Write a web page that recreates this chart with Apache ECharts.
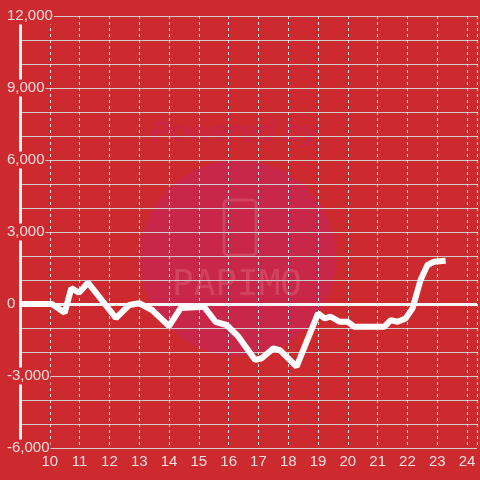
<!DOCTYPE html>
<html>
<head>
<meta charset="utf-8">
<script src="https://cdn.jsdelivr.net/npm/echarts@6/dist/echarts.min.js"></script>
<style>
  html, body { margin: 0; padding: 0; background: #cd2a2f; }
  #chart { width: 480px; height: 480px; }
</style>
</head>
<body>
<div id="chart"></div>
<script>
// 時刻 (hour) と差枚数
var hours = [9.0, 10.07, 10.5, 10.72, 10.98, 11.28, 12.22, 12.67, 13.0, 13.43, 14.0, 14.39, 15.17, 15.56, 15.93, 16.33, 16.89, 17.11, 17.5, 17.72, 18.28, 19.0, 19.22, 19.43, 19.72, 20.0, 20.22, 21.22, 21.44, 21.67, 21.94, 22.17, 22.44, 22.67, 22.89, 23.28];
var diffs = [0, 0, -360, 660, 470, 890, -590, -40, 30, -250, -920, -170, -110, -740, -875, -1360, -2330, -2260, -1850, -1920, -2610, -390, -600, -530, -740, -740, -950, -950, -670, -740, -600, -180, 1000, 1625, 1760, 1800];
var yTicks = [-6000, -3000, 0, 3000, 6000, 9000, 12000];
var xTicks = [10, 11, 12, 13, 14, 15, 16, 17, 18, 19, 20, 21, 22, 23, 24];

var bg = '#cd2a2f';
var labelColor = '#f6dcdc';

var chart = echarts.init(document.getElementById('chart'));

var option = {
  backgroundColor: bg,
  animation: false,
  textStyle: { fontFamily: 'Liberation Sans, Arial, sans-serif' },
  grid: { left: 20, right: 0, top: 16, bottom: 32 },
  graphic: [
    // watermark
    { type: 'circle', z: -10, shape: { cx: 238, cy: 258, r: 98 }, style: { fill: '#c92749' } },
    { type: 'text', z: -10, left: 150, top: 118, style: { text: 'Powered by', fontSize: 30, fontWeight: 'bold', fontStyle: 'italic', fill: '#c92646' } },
    { type: 'rect', z: -10, shape: { x: 224, y: 200, width: 32, height: 55, r: 4 }, style: { fill: 'none', stroke: 'rgba(255,255,255,0.13)', lineWidth: 3 } },
    { type: 'text', z: -10, left: 172, top: 268, style: { text: 'PAPIMO', fontSize: 36, fontFamily: 'DejaVu Sans Mono', fill: 'rgba(255,255,255,0.13)', letterSpacing: 2 } }
  ],
  xAxis: {
    type: 'value',
    min: 9,
    max: 24.333,
    interval: 1,
    axisLine: { show: false },
    axisTick: { show: false },
    axisLabel: {
      color: labelColor,
      fontSize: 15,
      margin: 6,
      formatter: function (v) {
        return xTicks.indexOf(v) >= 0 ? String(v) : '';
      }
    },
    splitLine: { show: true, lineStyle: { color: '#ececec', type: [3, 3], width: 1 } }
  },
  yAxis: {
    type: 'value',
    min: -6000,
    max: 12000,
    interval: 3000,
    axisLine: { show: true, lineStyle: { color: '#f2f2f2', width: 3 } },
    axisTick: { show: false },
    minorTick: { show: false, splitNumber: 3 },
    minorSplitLine: { show: true, lineStyle: { color: '#cccccc', width: 1 } },
    splitLine: { show: true, lineStyle: { color: '#cccccc', width: 1 } },
    axisLabel: {
      color: labelColor,
      fontSize: 15,
      align: 'left',
      margin: 14,
      backgroundColor: bg,
      padding: [1, 1],
      formatter: function (v) {
        return yTicks.indexOf(v) >= 0 ? v.toLocaleString('en-US') : '';
      }
    }
  },
  series: [{
    type: 'line',
    data: hours.map(function (h, i) { return [h, diffs[i]]; }),
    showSymbol: false,
    lineStyle: { color: '#ffffff', width: 6 },
    markLine: {
      silent: true,
      symbol: 'none',
      label: { show: false },
      lineStyle: { color: '#f5f5f5', width: 3, type: 'solid' },
      data: [{ yAxis: 0 }]
    },
    z: 5
  }]
};

chart.setOption(option);
</script>
</body>
</html>
